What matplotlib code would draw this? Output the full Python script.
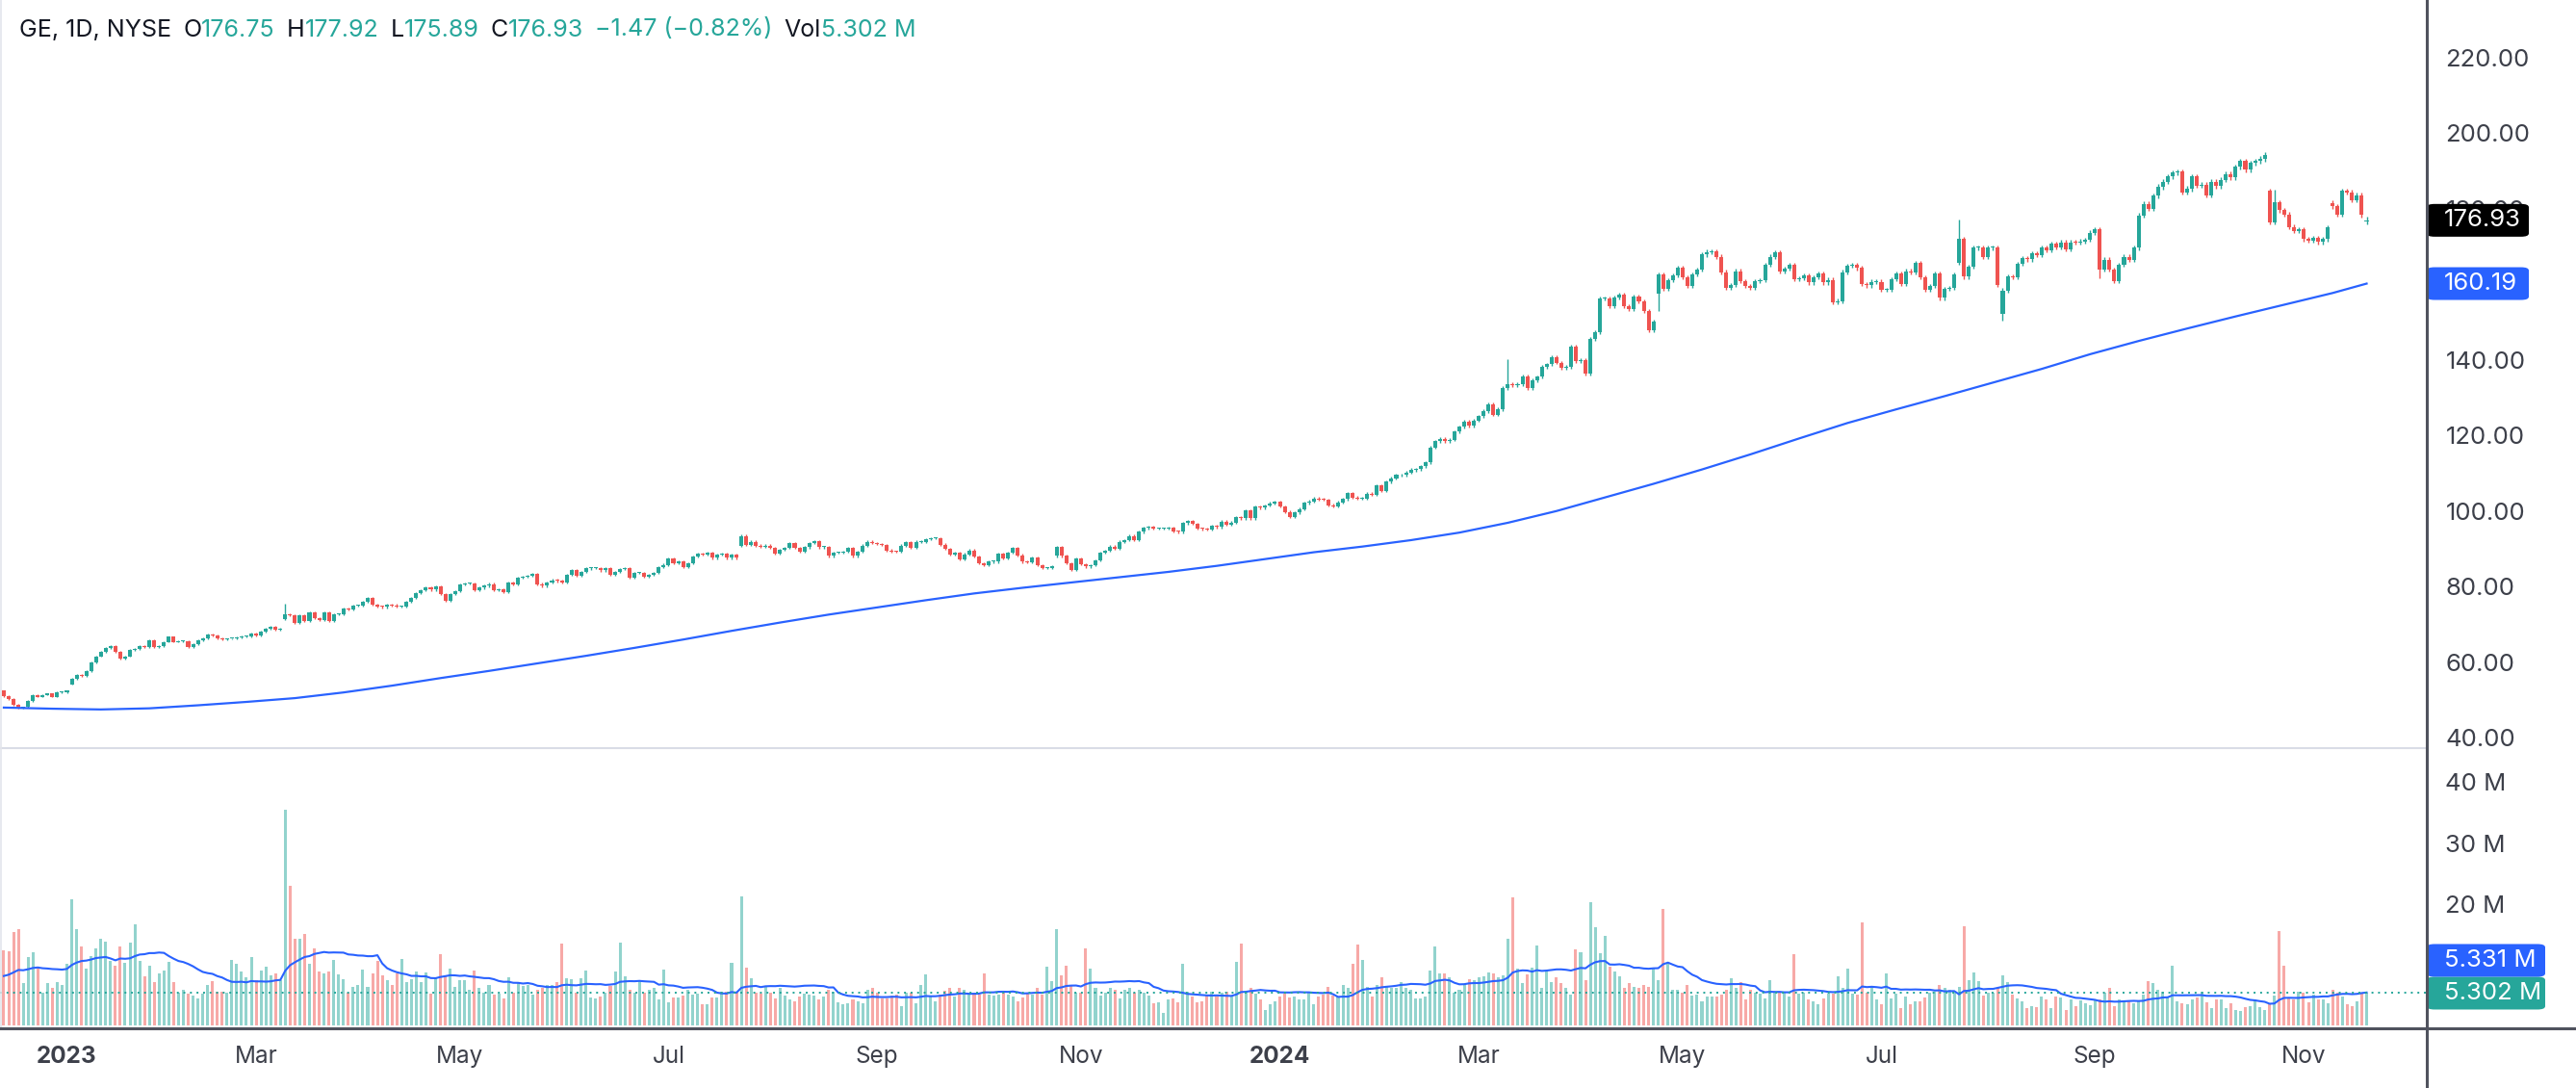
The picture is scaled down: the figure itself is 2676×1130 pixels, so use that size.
import matplotlib
matplotlib.use("Agg")
import matplotlib.pyplot as plt
from matplotlib.patches import FancyBboxPatch
from matplotlib.lines import Line2D
from matplotlib.ticker import FuncFormatter
import numpy as np
import pandas as pd

plt.rcParams['font.family'] = ['Inter', 'DejaVu Sans']

# ---- daily closes, one list per month ----
c_2022_12 = [51.0, 50.3, 48.7, 48.0, 48.1, 49.8, 51.4, 50.9, 51.4, 51.7, 50.9, 52.0, 52.0]
c_2023_01 = [52.5, 55.6, 56.7, 56.4, 57.6, 59.9, 61.6, 62.8, 63.8, 64.3, 62.8, 60.9, 61.6, 63.3, 63.6, 64.3, 64.0, 65.8, 64.1, 64.3]
c_2023_02 = [65.4, 66.7, 65.4, 65.5, 65.6, 64.1, 64.8, 65.9, 66.4, 67.3, 67.0, 66.3, 66.0, 66.2, 66.2, 66.6, 66.8, 66.8, 67.5]
c_2023_03 = [67.1, 68.1, 68.9, 69.3, 68.7, 68.9, 72.6, 72.4, 70.5, 72.5, 71.0, 73.2, 71.6, 71.2, 73.2, 70.9, 72.8, 72.8, 74.2, 74.0, 75.0, 75.0, 76.0]
c_2023_04 = [77.0, 75.3, 74.7, 74.6, 75.3, 75.1, 74.7, 74.7, 76.0, 77.0, 78.3, 79.1, 79.7, 79.2, 80.0, 78.1, 76.3, 78.0, 78.8]
c_2023_05 = [80.5, 80.8, 80.8, 79.0, 79.7, 80.2, 80.7, 79.0, 79.4, 78.6, 81.1, 80.5, 82.4, 82.6, 82.8, 83.4, 80.7, 80.2, 81.1, 81.7, 81.5, 81.0]
c_2023_06 = [83.2, 84.3, 82.8, 83.9, 84.8, 84.9, 84.9, 84.3, 84.9, 83.2, 83.9, 84.7, 84.8, 82.4, 83.6, 83.6, 82.6, 83.2, 83.6, 85.1, 85.8]
c_2023_07 = [87.5, 86.2, 86.6, 85.1, 86.2, 87.9, 88.7, 88.5, 88.9, 87.6, 88.5, 88.7, 87.6, 88.5, 87.6, 93.4, 91.1, 91.9, 90.9, 90.6]
c_2023_08 = [90.9, 90.2, 88.7, 89.8, 90.3, 91.5, 90.2, 89.2, 90.4, 91.5, 92.1, 90.4, 90.4, 88.1, 89.0, 89.0, 89.2, 90.3, 88.1, 89.3, 90.9, 91.9, 91.5]
c_2023_09 = [91.3, 91.0, 89.6, 89.3, 89.2, 90.9, 91.7, 90.2, 91.9, 91.9, 92.6, 92.8, 92.8, 91.1, 90.0, 88.5, 89.0, 87.3, 88.6, 89.6]
c_2023_10 = [87.9, 86.2, 85.8, 86.6, 86.6, 88.7, 87.5, 89.0, 90.2, 88.3, 86.6, 86.4, 87.6, 85.6, 84.9, 84.9, 85.3, 90.4, 88.1, 86.2, 84.5, 87.5]
c_2023_11 = [85.9, 85.3, 85.6, 87.0, 89.0, 89.5, 90.6, 90.0, 91.9, 92.3, 93.4, 92.4, 94.5, 95.5, 95.8, 95.4, 95.4, 95.4, 95.5, 94.6, 94.5]
c_2023_12 = [96.8, 97.4, 96.6, 95.4, 95.3, 95.1, 96.0, 95.8, 97.2, 96.4, 97.0, 98.3, 98.1, 100.2, 98.1, 101.1, 100.9, 101.5, 102.1, 102.4]
c_2024_01 = [101.2, 99.8, 98.5, 99.6, 100.5, 102.2, 102.6, 103.3, 103.1, 103.0, 101.6, 101.2, 102.3, 103.2, 104.7, 103.6, 103.3, 103.3, 104.6, 104.4, 106.7]
c_2024_02 = [105.3, 107.8, 108.7, 109.5, 109.5, 110.2, 110.9, 111.1, 111.9, 112.9, 116.8, 118.5, 119.1, 118.5, 118.9, 121.0, 122.3, 123.6, 122.5, 124.0]
c_2024_03 = [125.1, 126.5, 128.2, 125.5, 127.0, 132.6, 133.7, 133.2, 133.6, 135.6, 132.6, 134.6, 135.5, 138.2, 138.8, 140.7, 139.3, 138.0, 138.2, 143.5]
c_2024_04 = [139.7, 139.9, 136.3, 145.5, 147.3, 156.2, 156.2, 154.3, 156.5, 157.3, 154.3, 153.5, 156.7, 155.4, 152.9, 147.8, 150.1, 162.6, 158.8, 161.1, 162.4, 164.3]
c_2024_05 = [161.8, 159.5, 162.6, 163.9, 167.9, 168.6, 168.7, 167.3, 163.2, 159.1, 159.8, 163.5, 160.9, 159.6, 159.1, 160.9, 161.1, 165.2, 167.3, 168.4, 163.5, 164.1]
c_2024_06 = [165.2, 161.3, 161.6, 162.4, 160.5, 161.9, 162.9, 160.5, 161.2, 155.2, 155.6, 163.2, 164.9, 165.2, 164.3, 160.1, 159.7, 160.7, 160.7]
c_2024_07 = [158.6, 158.6, 161.4, 162.9, 160.1, 163.5, 163.1, 165.6, 161.8, 158.6, 159.5, 162.9, 156.4, 158.8, 159.0, 162.6, 172.0, 162.0, 164.6, 169.7, 169.7, 167.3]
c_2024_08 = [169.7, 169.7, 159.8, 158.4, 162.0, 161.8, 165.4, 166.9, 166.6, 168.1, 167.7, 169.7, 169.0, 170.7, 169.8, 171.1, 169.3, 171.1, 171.0, 171.4, 171.8, 173.7]
c_2024_09 = [174.5, 163.9, 166.5, 163.9, 160.9, 165.2, 167.3, 166.5, 169.7, 178.2, 181.3, 180.0, 183.4, 185.8, 187.2, 188.5, 189.5, 189.8, 184.3, 185.3]
c_2024_10 = [188.5, 186.1, 186.4, 183.6, 187.1, 186.0, 187.7, 189.1, 188.3, 191.1, 192.6, 190.4, 192.1, 192.6, 193.2, 194.3, 176.5, 181.7, 179.6, 178.5, 175.2, 174.1, 174.5]
c_2024_11 = [172.0, 171.5, 172.3, 171.2, 172.0, 175.1, 180.6, 178.5, 184.7, 184.3, 182.3, 183.6, 178.4, 176.93]

first_open = 52.5
# (candle index, open) for days that gapped away from the previous close
gap_opens = [(14, 54.2), (58, 71.3), (152, 90.9), (217, 88.1), (341, 157.5),
             (403, 165.8), (412, 152.3), (467, 184.7), (480, 181.5)]
long_highs = [(58, 75.6), (310, 140.2), (403, 177.1), (468, 185.1)]
long_lows = [(341, 152.9), (412, 150.3), (432, 161.5)]
last_ohlc = (176.75, 177.92, 175.89, 176.93)

# ---- daily volume in millions ----
volume = [
    12.4, 12.2, 15.4, 15.9, 7.0, 11.2, 12.1, 9.5, 5.4, 6.9, 6.2,
    7.2, 6.7, 10.2, 20.8, 15.9, 13.0, 9.4, 11.4, 12.7, 14.3, 13.7, 10.6, 9.8, 13.0, 10.3,
    13.6, 16.7, 10.6, 8.1, 9.8, 7.2, 8.6, 9.0, 10.4, 7.2, 5.4, 5.9, 5.2, 4.9, 4.4, 5.2,
    6.7, 7.3, 5.6, 5.6, 5.4, 10.8, 10.2, 8.8, 7.9, 11.3, 7.5, 9.0, 9.6, 8.2, 8.5, 7.5,
    35.4,
    23.0, 14.2, 14.2, 15.0, 10.2, 12.7, 8.8, 8.6, 8.8, 10.8, 8.4, 7.6, 5.4, 6.3, 6.7,
    9.2, 6.3, 8.6, 10.6, 8.2, 7.5, 6.7, 8.5, 11.0, 7.2, 7.6, 8.9, 7.1, 8.7, 5.2,
    7.9, 11.7, 8.0, 9.3, 6.3, 7.5, 7.5, 5.9, 9.0, 6.1, 5.4, 6.6, 5.0, 5.2, 4.4,
    7.9, 5.4, 6.9, 6.5, 6.7, 5.0, 5.8, 6.2, 6.7, 6.7, 7.2, 13.4, 7.7, 7.6, 5.4,
    7.7, 9.1, 4.6, 4.4, 4.8, 5.4, 6.5, 8.8, 13.6, 8.1, 5.9, 5.4, 7.3, 5.4, 5.9,
    6.2, 4.2, 9.2, 3.8, 4.6, 4.6, 4.9, 5.8, 5.0, 5.2, 3.5, 3.5, 4.6, 4.6, 5.6,
    5.5, 10.3, 5.3, 21.2, 9.5, 7.8, 5.4, 5.2, 6.5, 5.3, 4.4, 6.2, 4.9, 4.3, 4.0,
    4.7, 5.2, 5.0,
    4.9, 4.3, 4.8, 5.8, 5.6, 3.8, 3.4, 3.6, 4.3, 4.0, 3.6, 5.8, 6.2, 5.3, 4.4,
    4.4, 4.9, 5.0, 3.1, 5.3, 5.3, 3.6, 6.7, 8.4, 4.7, 3.9, 5.0, 5.7, 6.2, 4.8,
    6.2, 5.9, 5.2, 5.3, 5.0, 8.5, 5.0, 4.9, 5.0, 5.4, 5.0, 4.8,
    4.0, 4.6, 5.2, 5.0, 6.2, 5.0, 9.6, 7.3, 15.8, 8.3, 9.8, 6.5, 5.3, 5.3, 12.7,
    9.3, 6.1, 4.9, 5.3, 6.1, 5.8, 4.4, 5.9, 6.1, 5.4, 5.8, 5.3, 4.9, 3.6, 3.8,
    2.1, 4.2, 4.4, 3.8, 10.1, 5.6, 4.8, 3.8, 3.9, 4.9, 5.5, 4.7, 5.4, 5.5, 4.8,
    10.4, 13.5, 5.7, 6.2, 5.2, 4.2, 2.6, 3.4, 3.9, 4.7, 5.2, 4.6, 4.8, 4.3, 4.2,
    5.4, 3.4, 4.8, 5.0, 6.4, 4.9, 4.8, 6.6, 6.2, 10.2, 13.3, 10.7, 6.4, 4.8, 6.6,
    7.9, 6.4, 6.2, 6.2, 7.1, 6.1, 5.8, 4.4, 4.4, 4.7, 9.0, 13.0, 8.5, 8.5, 7.9,
    5.4, 5.8, 6.8, 7.6, 7.5, 7.9, 8.1, 8.7, 8.5, 7.9, 8.3, 14.3, 21.1, 9.3, 6.9,
    8.4, 9.5,
    13.1, 6.2, 9.0, 7.2, 7.9, 6.9, 6.2, 5.0, 12.5, 12.1, 7.5, 20.3, 16.1, 11.8, 14.8,
    9.6, 8.9, 8.1, 6.2,
    6.9, 6.4, 6.2, 6.6, 6.3, 9.3, 7.4, 19.2, 10.3, 5.9, 5.9, 5.3, 6.7, 4.9, 5.0,
    3.9, 4.8, 4.8, 4.8, 5.0, 5.8, 7.8, 6.1, 7.1, 4.3, 5.9, 5.4, 5.2, 4.4, 7.5,
    5.4, 5.4, 5.4, 4.8, 11.7,
    5.2, 5.4, 4.2, 3.9, 3.4, 4.4, 5.2, 5.2, 8.1, 6.2, 9.4, 5.2, 5.0, 17.0, 5.4,
    6.5, 4.2, 3.4, 8.5, 4.4, 5.2, 2.8, 4.8, 3.5, 3.9, 3.9, 4.6, 5.3, 5.6, 6.6,
    6.1, 5.8, 5.4, 6.4, 16.3, 7.4, 8.7, 7.3, 4.9, 5.4, 5.4, 6.2, 8.3, 7.1, 5.0,
    4.4, 3.9, 2.9, 3.1, 3.0, 4.7, 4.3, 2.9, 4.7, 4.6, 2.6, 4.2, 3.1, 4.1, 3.6,
    3.3, 4.2, 4.2, 5.4, 6.1, 3.1, 4.2, 3.9, 3.9, 3.6, 4.1, 5.1, 7.3, 6.9, 5.9,
    5.6, 4.8, 9.8, 3.9, 3.6, 3.4, 4.2, 4.6, 5.6, 3.8, 2.8, 4.2, 4.2, 2.8, 3.6,
    2.5, 2.4, 3.0, 3.2, 4.3, 3.0, 2.6, 3.4, 4.9,
    15.5,
    9.8, 4.6, 4.2, 5.6, 5.3, 3.8, 5.1, 4.2, 4.3, 3.6, 5.9, 5.4, 4.8, 3.5, 3.2,
    3.9, 5.3, 5.302,
]
# volume average level where its line enters the chart on the left
vol_ma_seed = 7.9
vol_ma_label = 5.331

# 200-day moving average, read at every 10th candle (plus the last one)
ma_idx = list(range(0, 481, 10)) + [487]
ma200 = [48.0, 47.7, 47.5, 47.8, 48.6, 49.5, 50.5, 52.0, 53.8, 55.8,
         57.7, 59.7, 61.7, 63.8, 66.0, 68.3, 70.5, 72.6, 74.5, 76.4,
         78.2, 79.7, 81.1, 82.5, 83.9, 85.5, 87.3, 89.1, 90.6, 92.3,
         94.3, 96.9, 100.0, 103.6, 107.2, 111.0, 115.0, 119.2, 123.3, 126.9,
         130.4, 134.0, 137.6, 141.5, 145.0, 148.3, 151.5, 154.6, 157.7, 160.19]

nyse_holidays = ['2022-12-26', '2023-01-02', '2023-01-16', '2023-02-20', '2023-04-07',
                 '2023-05-29', '2023-06-19', '2023-07-04', '2023-09-04', '2023-11-23',
                 '2023-12-25', '2024-01-01', '2024-01-15', '2024-02-19', '2024-03-29',
                 '2024-05-27', '2024-06-19', '2024-07-04', '2024-09-02', '2024-11-28']

UP = '#26a69a'
DOWN = '#ef5350'
VUP = '#92d3cd'
VDOWN = '#f7a9a7'
BLUE = '#2962ff'
DARK = '#131722'
AXTXT = '#3d404a'

close = np.array(c_2022_12 + c_2023_01 + c_2023_02 + c_2023_03 + c_2023_04 + c_2023_05
                 + c_2023_06 + c_2023_07 + c_2023_08 + c_2023_09 + c_2023_10 + c_2023_11
                 + c_2023_12 + c_2024_01 + c_2024_02 + c_2024_03 + c_2024_04 + c_2024_05
                 + c_2024_06 + c_2024_07 + c_2024_08 + c_2024_09 + c_2024_10 + c_2024_11)
vol = np.array(volume)
n = len(close)
assert len(vol) == n, f"volume {len(vol)} vs close {n}"
assert len(ma_idx) == len(ma200), f"ma {len(ma_idx)} {len(ma200)}"

opens = np.r_[first_open, close[:-1]]
for i, o in gap_opens:
    opens[i] = o
opens[-1] = last_ohlc[0]
wick = 0.0035
highs = np.maximum(opens, close) * (1 + wick)
lows = np.minimum(opens, close) * (1 - wick)
for i, h in long_highs:
    highs[i] = h
for i, l in long_lows:
    lows[i] = l
highs[-1] = last_ohlc[1]
lows[-1] = last_ohlc[2]

dates = pd.bdate_range('2022-12-13', periods=n, freq='C', holidays=nyse_holidays)
x = np.arange(n)
up = close >= opens

W, H = 2676, 1130
fig = plt.figure(figsize=(W / 100, H / 100), dpi=100)
ax = fig.add_axes([0, 1 - 777 / H, 2521 / W, 777 / H])
axv = fig.add_axes([0, 1 - 1068 / H, 2521 / W, (1068 - 777) / H], sharex=ax)

# candles
cols = np.where(up, UP, DOWN)
ax.vlines(x, lows, highs, colors=cols, lw=1.0)
body = np.maximum(np.abs(close - opens), 0.25)
ax.bar(x, body, bottom=np.minimum(opens, close), width=0.8, color=cols, linewidth=0)
ax.plot(ma_idx, ma200, color=BLUE, lw=1.6)

ax.set_xlim(-0.79, 499.4)
ax.set_ylim(37.27, 235.23)
ax.yaxis.tick_right()
ax.set_yticks(np.arange(40, 221, 20))
ax.yaxis.set_major_formatter(FuncFormatter(lambda v, _: f"{v:.2f}"))
ax.tick_params(axis='y', length=0, pad=14, labelsize=18.5, labelcolor=AXTXT)
ax.tick_params(axis='x', bottom=False, labelbottom=False)

# volume with its 20-day average
axv.bar(x, vol, width=0.6, color=np.where(up, VUP, VDOWN), linewidth=0)
padded = np.r_[np.full(19, vol_ma_seed), vol]
vol_ma = pd.Series(padded).rolling(20).mean().to_numpy()[19:]
axv.plot(x, vol_ma, color=BLUE, lw=1.5)
axv.axhline(vol[-1], color=UP, lw=1.4, ls=(0, (1, 2.5)))
axv.set_ylim(-0.48, 45.6)
axv.yaxis.tick_right()
axv.set_yticks([20, 30, 40])
axv.set_yticklabels(['20 M', '30 M', '40 M'])
axv.tick_params(axis='y', length=0, pad=14, labelsize=18.5, labelcolor=AXTXT)

# month ticks
key = dates.year * 12 + dates.month
starts = np.where(np.r_[False, np.diff(key) != 0])[0]
tick_pos, tick_lbl = [], []
for i in starts:
    m = dates[i].month
    if m == 1:
        tick_pos.append(i)
        tick_lbl.append(str(dates[i].year))
    elif m in (3, 5, 7, 9, 11):
        tick_pos.append(i)
        tick_lbl.append(dates[i].strftime('%b'))
axv.set_xticks(tick_pos)
axv.set_xticklabels(tick_lbl)
axv.tick_params(axis='x', length=0, pad=13, labelsize=17.5, labelcolor=AXTXT)
for t in axv.get_xticklabels():
    if t.get_text().isdigit():
        t.set_fontweight('bold')

for a in (ax, axv):
    for s in a.spines.values():
        s.set_visible(False)

# frame lines
fig.add_artist(Line2D([0, 2521 / W], [1 - 777 / H] * 2, color='#d9dce6', lw=1.5))
fig.add_artist(Line2D([1 / W] * 2, [1 - 1068 / H, 1], color='#e3e5ec', lw=1.2))
fig.add_artist(Line2D([0, 1], [1 - 1068 / H] * 2, color='#50535e', lw=2.2))
fig.add_artist(Line2D([2521 / W] * 2, [0, 1], color='#50535e', lw=2.2))

inv = fig.transFigure.inverted()


def fig_y(a, v):
    return inv.transform(a.transData.transform((0, v)))[1]


def value_box(yc, text, color, w_px, h_px=34):
    bx = FancyBboxPatch((2521 / W, yc - h_px / 2 / H), w_px / W, h_px / H,
                        boxstyle='round,pad=0,rounding_size=0.003',
                        transform=fig.transFigure, fc=color, ec='none')
    fig.add_artist(bx)
    fig.text(2539 / W, yc, text, color='white', fontsize=18.5, va='center', ha='left')


value_box(fig_y(ax, close[-1]), f"{close[-1]:.2f}", '#000000', 106)
value_box(fig_y(ax, ma200[-1]), f"{ma200[-1]:.2f}", BLUE, 106)
yv = fig_y(axv, vol[-1])
value_box(yv, f"{vol[-1]:.3f} M", UP, 123)
value_box(yv + 34 / H, f"{vol_ma_label:.3f} M", BLUE, 123)

# header legend
chg = close[-1] - close[-2]
pct = chg / close[-2] * 100
pieces = [("GE, 1D, NYSE", DARK, 12), ("O", DARK, 0), (f"{last_ohlc[0]:.2f}", UP, 12),
          ("H", DARK, 0), (f"{last_ohlc[1]:.2f}", UP, 12), ("L", DARK, 0),
          (f"{last_ohlc[2]:.2f}", UP, 12), ("C", DARK, 0), (f"{last_ohlc[3]:.2f}", UP, 12),
          (f"\u2212{abs(chg):.2f} (\u2212{abs(pct):.2f}%)", UP, 12), ("Vol", DARK, 0),
          (f"{vol[-1]:.3f} M", UP, 0)]
renderer = fig.canvas.get_renderer()
xpos = 20
for s, c, gap in pieces:
    t = fig.text(xpos / W, 1 - 31 / H, s, color=c, fontsize=18, va='center', ha='left')
    xpos = t.get_window_extent(renderer=renderer).x1 + gap

fig.savefig('out.png', dpi=100, facecolor='white')
